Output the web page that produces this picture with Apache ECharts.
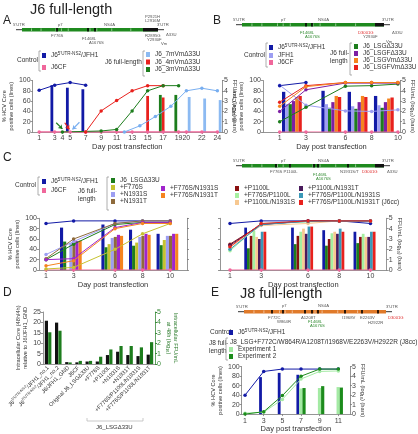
<!DOCTYPE html>
<html><head><meta charset="utf-8">
<script src="https://cdn.jsdelivr.net/npm/echarts@6/dist/echarts.min.js"></script>
<style>html,body{margin:0;padding:0;background:#fff}#c{width:418px;height:434px}</style>
</head><body><div id="c"></div>
<script>
const FONT = '"Liberation Sans", Arial, Helvetica, sans-serif';

// ---------------- names ----------------
const J6JFH1 = "J6^5'UTR-NS2/JFH1";
const J6CF = 'J6CF';
const JFH1 = 'JFH1';
const LSG = 'J6_LSGΔ33U';

// ---------------- Panel A (days, % core lines / FFU bars) ----------------
const A_TICK_DAYS = [1,3,4,5,7,9,11,13,15,17,19,20,22,24];
const A_core_J6JFH1 = [[1,81],[3,91],[5,96],[7,91]];
const A_core_J6CF = [[1,0],[3,0],[5,0],[7,0],[9,0],[11,0],[13,0],[15,0],[17,0],[19,0],[20,0],[22,0],[24,0]];
const A_core_7mVm = [[12,0],[14,12],[16,30],[18,50],[20,80],[22,85],[24,80]];
const A_core_4mVm = [[7,0],[9,41],[11,61],[13,80],[15,90],[17,90]];
const A_core_3mVm = [[4,0],[9,2],[11,5],[13,41],[15,80],[17,90],[19,90]];
const A_BAR_DAYS = [3,5,7,15,17,19,20,22,24];
const A_ffu_J6JFH1 = [4.55,4.3,4.15,null,null,null,null,null,null];
const A_ffu_4mVm   = [null,null,null,3.5,3.35,null,null,null,null];
const A_ffu_3mVm   = [null,null,null,null,3.6,3.6,null,null,null];
const A_ffu_7mVm   = [null,null,null,null,null,null,3.4,3.25,3.1];
const A_arrow_3mVm = [[3.2,18],[4.0,6]];
const A_arrow_4mVm = [[4.3,18],[4.9,5]];
const A_arrow_7mVm = [[6.2,19],[5.3,5]];

// ---------------- Panel B ----------------
const B_DAYS = [1,3,6,8,10];
const B_core_J6JFH1 = [90,96,null,null,null];
const B_core_JFH1   = [91,52,41,40,43];
const B_core_J6CF   = [0,0,0,0,0];
const B_core_LSG    = [20,48,89,90,93];
const B_core_LSGF   = [40,82,95,95,95];
const B_core_LSGVm  = [50,88,96,96,96];
const B_core_LSGFVm = [58,90,96,96,96];
const B_ffu_J6JFH1 = [null,3.9,4.0,3.9,3.5];
const B_ffu_JFH1   = [null,2.7,2.7,2.5,2.6];
const B_ffu_LSG    = [null,2.7,2.35,2.25,2.35];
const B_ffu_LSGF   = [null,3.0,2.9,2.9,2.9];
const B_ffu_LSGVm  = [null,3.4,3.5,3.5,3.25];
const B_ffu_LSGFVm = [null,3.5,3.4,3.4,3.35];

// ---------------- Panel C left ----------------
const C_DAYS = [1,3,6,8,10];
const CL_core_J6JFH1 = [90,95,95,95,95];
const CL_core_J6CF   = [0,0,0,0,0];
const CL_core_LSG    = [20,50,88,92,92];
const CL_core_F776S  = [2,5,40,70,90];
const CL_core_N1931S = [30,55,90,95,95];
const CL_core_N1931T = [22,60,90,95,95];
const CL_core_F776S_N1931S = [20,22,82,92,92];
const CL_core_F776S_N1931T = [8,18,80,90,90];
const CL_ffu_J6JFH1 = [null,4.1,4.4,3.9,3.5];
const CL_ffu_LSG    = [null,2.75,2.2,2.35,2.4];
const CL_ffu_F776S  = [null,null,2.5,2.65,2.9];
const CL_ffu_N1931S = [null,2.6,3.1,3.2,3.3];
const CL_ffu_N1931T = [null,2.75,3.2,3.3,3.3];
const CL_ffu_F776S_N1931S = [null,2.8,3.4,3.5,3.5];
const CL_ffu_F776S_N1931T = [null,2.85,3.3,3.4,3.5];

// ---------------- Panel C right ----------------
const CR_core_J6JFH1 = [90,95,95,95,90];
const CR_core_J6CF   = [0,0,0,0,0];
const CR_core_P1100L = [50,88,95,95,95];
const CR_core_F776S_P1100L = [37,90,93,95,95];
const CR_core_P1100L_N1931S = [44,86,90,95,95];
const CR_core_P1100L_N1931T = [48,88,95,95,95];
const CR_core_F776S_P1100L_N1931S = [40,88,94,95,95];
const CR_core_J6cc = [45,90,95,95,95];
const CR_ffu_J6JFH1 = [null,4.1,4.1,3.85,3.7];
const CR_ffu_LSG    = [null,2.1,2.5,2.35,2.6];
const CR_ffu_P1100L = [null,3.3,3.3,3.0,3.2];
const CR_ffu_F776S_P1100L = [null,3.8,3.7,3.55,3.5];
const CR_ffu_P1100L_N1931S = [null,3.2,4.0,3.7,3.2];
const CR_ffu_P1100L_N1931T = [null,3.0,3.5,3.5,3.2];
const CR_ffu_F776S_P1100L_N1931S = [null,3.7,4.2,4.0,3.7];
const CR_ffu_J6cc = [null,3.7,4.2,3.7,3.7];

// ---------------- Panel D ----------------
const D_CATS = ["J6^5'UTR-NS2/JFH1_no.1","J6^5'UTR-NS2/JFH1_no.2","J6/JFH1_GND","J6CF","Original J6_LSGΔ33U",
  "+F776S","+P1100L","+N1931S","+N1931T","+F776S/P1100L/N1931S","+F776S/P1100L/N1931T"];
const D_core = [20.8,19.9,0.9,0.8,1.2,1.2,4.3,5.9,4.3,3.8,4.5];
const D_ffu  = [3.05,3.2,0.15,0.3,0.3,0.7,1.4,1.73,1.73,1.6,2.1];

// ---------------- Panel E ----------------
const E_DAYS = [1,3,5,7,9,11];
const E_core_J6JFH1 = [40,90,95,95,95,95];
const E_core_exp1 = [2,4,31,74,90,91];
const E_core_exp2 = [0,5,39,80,95,95];
const E_ffu_J6JFH1 = [null,3.9,4.35,4.15,null,null];
const E_ffu_exp1 = [null,null,null,2.7,2.75,2.85];
const E_ffu_exp2 = [null,null,null,2.75,2.95,2.8];

// ---------------- colours ----------------
const COL = {
  blue:'#121aa6', pink:'#f0679b', lblue:'#78aef0', red:'#e8211d', green:'#1d7d1d',
  lav:'#9d9ef2', purple:'#7d1fa3', orange:'#f5841f', olive:'#c6c230', brown:'#8e6a3c',
  mag:'#a024cc', dred:'#8a1010', lgreen:'#a6f0a0', lorange:'#f7c890', dpurple:'#4a1b5c',
  teal:'#3a98b8', e1:'#a4eaa4', e2:'#1c8c1c', black:'#111111'
};

// ---------------- helpers ----------------
const series = [];
const zip = (days, vals) => days.map((d,i) => [d, vals[i]]);
function addLine(name, color, gi, data, extra) {
  series.push(Object.assign({type:'line', name, xAxisIndex:gi*2, yAxisIndex:gi*2, data,
    symbol:'circle', symbolSize:3.5, connectNulls:true, z:5,
    lineStyle:{width:1, color}, itemStyle:{color}}, extra || {}));
}
function addBar(name, color, gi, data, w, extra) {
  series.push(Object.assign({type:'bar', name, xAxisIndex:gi*2+1, yAxisIndex:gi*2+1, data,
    barWidth:w, barGap:'0%', z:2, itemStyle:{color}}, extra || {}));
}
function arrow(pts, color) {
  return {silent:true, symbol:['none','arrow'], symbolSize:4, animation:false,
    label:{show:false}, lineStyle:{color, width:1.2, type:'solid'},
    data:[[{coord:pts[0]},{coord:pts[1]}]]};
}

// ---------------- series: A (grid 0) ----------------
addBar(J6JFH1, COL.blue, 0, zip(A_BAR_DAYS, A_ffu_J6JFH1), 2.8, {stack:'Abg'});
addBar('J6_4mVmΔ33U', COL.red, 0, zip(A_BAR_DAYS, A_ffu_4mVm), 2.8);
addBar('J6_3mVmΔ33U', COL.green, 0, zip(A_BAR_DAYS, A_ffu_3mVm), 2.8, {stack:'Abg'});
addBar('J6_7mVmΔ33U', COL.lblue, 0, zip(A_BAR_DAYS, A_ffu_7mVm), 2.8, {itemStyle:{color:COL.lblue, opacity:0.85}});
addLine(J6CF, COL.pink, 0, A_core_J6CF, {lineStyle:{width:1.3,color:COL.pink}});
addLine(J6JFH1, COL.blue, 0, A_core_J6JFH1);
addLine('J6_4mVmΔ33U', COL.red, 0, A_core_4mVm, {markLine:arrow(A_arrow_4mVm, COL.red)});
addLine('J6_3mVmΔ33U', COL.green, 0, A_core_3mVm, {markLine:arrow(A_arrow_3mVm, COL.green)});
addLine('J6_7mVmΔ33U', COL.lblue, 0, A_core_7mVm, {markLine:arrow(A_arrow_7mVm, COL.lblue)});

// ---------------- series: B (grid 1) ----------------
[[J6JFH1,COL.blue,B_ffu_J6JFH1],[JFH1,COL.lav,B_ffu_JFH1],[LSG,COL.green,B_ffu_LSG],
 ['J6_LSGFΔ33U',COL.purple,B_ffu_LSGF],['J6_LSGVmΔ33U',COL.orange,B_ffu_LSGVm],['J6_LSGFVmΔ33U',COL.red,B_ffu_LSGFVm]]
 .forEach(s => addBar(s[0], s[1], 1, zip(B_DAYS, s[2]), 3.3));
[[J6CF,COL.pink,B_core_J6CF],[JFH1,COL.lav,B_core_JFH1],[J6JFH1,COL.blue,B_core_J6JFH1],[LSG,COL.green,B_core_LSG],
 ['J6_LSGFΔ33U',COL.purple,B_core_LSGF],['J6_LSGFVmΔ33U',COL.red,B_core_LSGFVm],['J6_LSGVmΔ33U',COL.orange,B_core_LSGVm]]
 .forEach(s => addLine(s[0], s[1], 1, zip(B_DAYS, s[2])));

// ---------------- series: C left (grid 2) ----------------
[[J6JFH1,COL.blue,CL_ffu_J6JFH1],[LSG,COL.green,CL_ffu_LSG],['+F776S',COL.olive,CL_ffu_F776S],
 ['+N1931S',COL.lav,CL_ffu_N1931S],['+N1931T',COL.brown,CL_ffu_N1931T],
 ['+F776S/N1931S',COL.mag,CL_ffu_F776S_N1931S],['+F776S/N1931T',COL.orange,CL_ffu_F776S_N1931T]]
 .forEach(s => addBar(s[0], s[1], 2, zip(C_DAYS, s[2]), 3.1));
[[J6CF,COL.pink,CL_core_J6CF],[J6JFH1,COL.blue,CL_core_J6JFH1],[LSG,COL.green,CL_core_LSG],['+F776S',COL.olive,CL_core_F776S],
 ['+N1931S',COL.lav,CL_core_N1931S],['+N1931T',COL.brown,CL_core_N1931T],
 ['+F776S/N1931S',COL.mag,CL_core_F776S_N1931S],['+F776S/N1931T',COL.orange,CL_core_F776S_N1931T]]
 .forEach(s => addLine(s[0], s[1], 2, zip(C_DAYS, s[2])));

// ---------------- series: C right (grid 3) ----------------
[[J6JFH1,COL.blue,CR_ffu_J6JFH1],[LSG,COL.green,CR_ffu_LSG],['+P1100L',COL.dred,CR_ffu_P1100L],
 ['+F776S/P1100L',COL.lgreen,CR_ffu_F776S_P1100L],['+P1100L/N1931S',COL.lorange,CR_ffu_P1100L_N1931S],
 ['+P1100L/N1931T',COL.dpurple,CR_ffu_P1100L_N1931T],['+F776S/P1100L/N1931S',COL.teal,CR_ffu_F776S_P1100L_N1931S],
 ['+F776S/P1100L/N1931T (J6cc)',COL.red,CR_ffu_J6cc]]
 .forEach(s => addBar(s[0], s[1], 3, zip(C_DAYS, s[2]), 2.75));
[[J6CF,COL.pink,CR_core_J6CF],[J6JFH1,COL.blue,CR_core_J6JFH1],['+P1100L',COL.dred,CR_core_P1100L],
 ['+F776S/P1100L',COL.lgreen,CR_core_F776S_P1100L],['+P1100L/N1931S',COL.lorange,CR_core_P1100L_N1931S],
 ['+P1100L/N1931T',COL.dpurple,CR_core_P1100L_N1931T],['+F776S/P1100L/N1931S',COL.teal,CR_core_F776S_P1100L_N1931S],
 ['+F776S/P1100L/N1931T (J6cc)',COL.red,CR_core_J6cc]]
 .forEach(s => addLine(s[0], s[1], 3, zip(C_DAYS, s[2])));

// ---------------- series: D (grid 4, category) ----------------
series.push({type:'bar', name:'Intracellular Core', xAxisIndex:8, yAxisIndex:8, data:D_core, barWidth:3.2, barGap:'5%', itemStyle:{color:COL.black}});
series.push({type:'bar', name:'Intracellular FFU', xAxisIndex:8, yAxisIndex:9, data:D_ffu, barWidth:3.2, barGap:'5%', itemStyle:{color:COL.green}});

// ---------------- series: E (grid 5) ----------------
addBar(J6JFH1, COL.blue, 5, zip(E_DAYS, E_ffu_J6JFH1), 2.8);
addBar('Experiment 1', COL.e1, 5, zip(E_DAYS, E_ffu_exp1), 3.2);
addBar('Experiment 2', COL.e2, 5, zip(E_DAYS, E_ffu_exp2), 3.2);
addLine(J6JFH1, COL.blue, 5, zip(E_DAYS, E_core_J6JFH1));
addLine('Experiment 1', COL.e1, 5, zip(E_DAYS, E_core_exp1));
addLine('Experiment 2', COL.e2, 5, zip(E_DAYS, E_core_exp2));

// ---------------- axes ----------------
const AX = '#7a7a7a';
const axLine = {show:true, onZero:false, lineStyle:{color:AX, width:0.8}};
const tick = {show:true, length:2, lineStyle:{color:AX, width:0.8}};
const lab = {fontSize:7, color:'#444', fontFamily:FONT};
function dayAxis(gi, min, max, ticks, nameGap) {
  return {type:'value', gridIndex:gi, min, max, position:'bottom', axisLine:axLine,
    axisTick:Object.assign({customValues:ticks}, tick),
    axisLabel:Object.assign({customValues:ticks, margin:3}, lab), splitLine:{show:false},
    name:'Day post transfection', nameLocation:'middle', nameGap,
    nameTextStyle:{fontSize:7.5, color:'#333', fontFamily:FONT}};
}
function hidAxis(gi, min, max) { return {type:'value', gridIndex:gi, min, max, show:false, splitLine:{show:false}}; }
function pctAxis(gi, show) {
  return {type:'value', gridIndex:gi, min:0, max:100, interval:20, position:'left', axisLine:axLine, axisTick:tick,
    axisLabel:Object.assign({show, margin:2}, lab), splitLine:{show:false},
    name: show ? '% HCV Core\npositive cells (lines)' : '', nameLocation:'middle', nameRotate:90, nameGap:14,
    nameTextStyle:{fontSize:5.6, lineHeight:7, color:'#333', fontFamily:FONT}};
}
function ffuAxis(gi, show) {
  return {type:'value', gridIndex:gi, min:0, max:5, interval:1, position:'right', axisLine:axLine, axisTick:tick,
    axisLabel:Object.assign({show, margin:2}, lab), splitLine:{show:false},
    name: show ? 'FFU/mL (log₁₀) (bars)' : '', nameLocation:'middle', nameRotate:-90, nameGap:10,
    nameTextStyle:{fontSize:5.6, color:'#333', fontFamily:FONT}};
}

const xAxis = [
  dayAxis(0, 0.15, 24.6, A_TICK_DAYS, 9), hidAxis(0, 0.15, 24.6),
  dayAxis(1, -0.27, 10.16, B_DAYS, 9), hidAxis(1, 0.8, 11.23),
  dayAxis(2, 0.49, 11.22, C_DAYS, 9), hidAxis(2, 0.69, 11.42),
  dayAxis(3, 0.36, 11.04, C_DAYS, 9), hidAxis(3, 0.74, 11.42),
  {type:'category', gridIndex:4, data:D_CATS, axisLine:axLine, axisTick:{show:false},
    axisLabel:{interval:0, rotate:45, margin:3, fontSize:5.6, color:'#444', fontFamily:FONT, formatter:v=>fmtName(v),
      rich:richFor(5.6)}},
  {type:'category', gridIndex:4, data:D_CATS, show:false},
  dayAxis(5, 0.64, 12.25, E_DAYS, 8), hidAxis(5, 0.64, 12.25)
];
const yAxis = [
  pctAxis(0,true), ffuAxis(0,true),
  pctAxis(1,true), ffuAxis(1,true),
  pctAxis(2,true), ffuAxis(2,false),
  pctAxis(3,false), ffuAxis(3,true),
  {type:'value', gridIndex:4, min:0, max:25, interval:5, position:'left', axisLine:axLine, axisTick:tick,
    axisLabel:Object.assign({margin:2}, lab), splitLine:{show:false},
    name:'Intracellular Core (48h/4h)\nrelative to J6/JFH1_GND', nameLocation:'middle', nameRotate:90, nameGap:12,
    nameTextStyle:{fontSize:5.6, lineHeight:7, color:'#333', fontFamily:FONT}},
  {type:'value', gridIndex:4, min:0, max:5, interval:1, position:'right',
    axisLine:{show:true, lineStyle:{color:'#3a8a3a', width:0.8}}, axisTick:{show:true, length:2, lineStyle:{color:'#3a8a3a'}},
    axisLabel:{margin:2, fontSize:7, color:'#3a8a3a', fontFamily:FONT}, splitLine:{show:false},
    name:'Intracellular FFU/mL\nat 48h (log₁₀)', nameLocation:'middle', nameRotate:-90, nameGap:10,
    nameTextStyle:{fontSize:5.6, lineHeight:7, color:'#2a7a2a', fontFamily:FONT}},
  pctAxis(5,true), ffuAxis(5,true)
];

// ---------------- legends ----------------
function richFor(fs) {
  return {n:{fontSize:fs, lineHeight:8, color:'#333', fontFamily:FONT},
          s:{fontSize:fs*0.7, lineHeight:8, color:'#333', fontFamily:FONT, padding:[0,0,4,0]}};
}
function fmtName(name) {
  const m = name.match(/^(.*?)\^([^\/]*)(.*)$/);
  if (m) return '{n|' + m[1] + '}{s|' + m[2] + '}{n|' + m[3] + '}';
  return '{n|' + name + '}';
}
function legendBox(names, left, top, gap) {
  return {data:names.map(n => ({name:n, icon:'rect'})), orient:'vertical', left, top, padding:0,
    itemWidth:4, itemHeight:5, itemGap:gap, selectedMode:false, formatter:fmtName,
    textStyle:{fontSize:6.5, color:'#333', fontFamily:FONT, rich:richFor(6.5)}};
}
const legend = [
  legendBox([J6JFH1, J6CF], 42, 51, 4),
  legendBox(['J6_7mVmΔ33U','J6_4mVmΔ33U','J6_3mVmΔ33U'], 146, 51, 0.5),
  legendBox([J6JFH1, JFH1, J6CF], 269, 43, 0),
  legendBox([LSG,'J6_LSGFΔ33U','J6_LSGVmΔ33U','J6_LSGFVmΔ33U'], 354, 43, 0),
  legendBox([J6JFH1, J6CF], 42, 177, 1),
  legendBox([LSG,'+F776S','+N1931S','+N1931T'], 111, 177, 0),
  legendBox(['+F776S/N1931S','+F776S/N1931T'], 161, 185, 0),
  legendBox(['+P1100L','+F776S/P1100L','+P1100L/N1931S'], 235, 185, 0),
  legendBox(['+P1100L/N1931T','+F776S/P1100L/N1931S','+F776S/P1100L/N1931T (J6cc)'], 299, 185, 0),
  legendBox([J6JFH1], 229, 328, 0),
  legendBox(['Experiment 1','Experiment 2'], 229, 346, 0)
];

// ---------------- decorations ----------------
const T = (x, y, text, size, color, extra) => Object.assign({type:'text', x, y, silent:true,
  style:{text, fontSize:size, fontFamily:FONT, fill:color || '#333', align:'left', verticalAlign:'middle'}}, extra || {});
const L = (pts, color, w) => ({type:'polyline', silent:true, shape:{points:pts}, style:{stroke:color || '#888', lineWidth:w || 0.7, fill:null}});
const R = (x, y, w, h, fill) => ({type:'rect', silent:true, shape:{x, y, width:w, height:h}, style:{fill}});
const bracket = (x, y1, y2) => L([[x+2,y1],[x,y1],[x,y2],[x+2,y2]], '#999', 0.8);
function genome(x0, x1, y, col, blackFrom, seps, marks) {
  const h = 3.4, els = [];
  els.push(L([[x0-6,y+h/2],[x0,y+h/2]], '#333', 1));
  els.push(R(x0, y, x1-x0, h, col));
  if (blackFrom) els.push(R(blackFrom, y, x1-blackFrom, h, '#111'));
  els.push(L([[x1,y+h/2],[x1+6,y+h/2]], '#333', 1));
  seps.forEach(f => { const sx = x0 + (x1-x0)*f; els.push(L([[sx,y+0.4],[sx,y+h-0.4]], '#fff', 0.5)); });
  marks.forEach(mx => els.push(R(mx-0.8, y, 1.6, h, '#000')));
  return els;
}
const SEPS = [0.07,0.14,0.25,0.29,0.34,0.5,0.55,0.66,0.8];
const G = '#555', GR = '#2f8a2f', RD = '#e03030';
const graphic = [
  // panel letters & titles
  T(3, 21, 'A', 12, '#222'), T(30, 10, 'J6 full-length', 14.5, '#222'),
  T(213, 21, 'B', 12, '#222'), T(3, 158, 'C', 12, '#222'),
  T(3, 293, 'D', 12, '#222'), T(211, 293, 'E', 12, '#222'), T(240, 294, 'J8 full-length', 14.5, '#222'),
  // A genome
  ...genome(22, 158, 28, '#1f8a1f', 143, SEPS, [57, 88, 95]),
  T(13, 24.5, "5'UTR", 4.2, G), T(58, 24.5, 'p7', 4.2, G), T(104, 24.5, 'NS4A', 4.2, G), T(157, 24.5, "3'UTR", 4.2, G),
  T(145, 16.5, 'P2921H', 4.2, G), T(145, 21, 'L2916M', 4.2, G),
  T(51, 36, 'F776S', 4.2, G), T(82, 38.5, 'F1468L', 4.2, G), T(89, 42.5, 'A1676S', 4.2, G),
  T(145, 35.5, 'R2895G', 4.2, G), T(147, 39.5, 'Y2930F', 4.2, G), T(166, 35, 'Δ33U', 4.2, G), T(161, 44, 'Vm', 4.2, G),
  // B genome
  ...genome(242, 384, 23, '#1f8a1f', 375, SEPS, [306, 312]),
  T(233, 20, "5'UTR", 4.2, G), T(281, 20, 'p7', 4.2, G), T(318, 20, 'NS4A', 4.2, G), T(382, 20, "3'UTR", 4.2, G),
  T(300, 33, 'F1468L', 4.2, GR), T(305, 37, 'A1676S', 4.2, GR),
  T(358, 33, 'D3001G', 4.2, RD), T(363, 37, 'Y2930F', 4.2, G), T(392, 33, 'Δ33U', 4.2, G), T(386, 42, 'Vm', 4.2, G),
  // C genome
  ...genome(242, 384, 164, '#1f8a1f', 375, SEPS, [276, 290, 314, 318, 348]),
  T(233, 161, "5'UTR", 4.2, G), T(281, 161, 'p7', 4.2, G), T(318, 161, 'NS4A', 4.2, G), T(382, 161, "3'UTR", 4.2, G),
  T(270, 172, 'F776S P1100L', 4.2, G), T(313, 175, 'F1468L', 4.2, GR), T(316, 179, 'A1676S', 4.2, GR),
  T(340, 172, 'N1931S/T', 4.2, G), T(362, 172, 'D3001G', 4.2, RD), T(387, 172, 'Δ33U', 4.2, G),
  // E genome
  ...genome(244, 386, 310, '#e07a2a', null, SEPS, [272, 283, 305, 312, 318, 345, 362, 378]),
  T(236, 307, "5'UTR", 4.2, G), T(282, 306, 'p7', 4.2, G), T(318, 306, 'NS4A', 4.2, G), T(386, 307, "3'UTR", 4.2, G),
  T(268, 318, 'F772C', 4.2, G), T(277, 322, 'W864R', 4.2, G), T(301, 318, 'A1208T', 4.2, G),
  T(308, 322, 'F1468L', 4.2, GR), T(310, 326, 'A1676S', 4.2, GR),
  T(342, 318, 'I1968V', 4.2, G), T(360, 318, 'E2263V', 4.2, G), T(368, 323, 'H2922R', 4.2, G), T(388, 318, 'D3001G', 4.2, RD),
  // legend captions & brackets A
  T(17, 60, 'Control', 6.5), bracket(39, 51, 71), T(105, 62, 'J6 full-length', 6.5), bracket(143, 51, 76),
  // B
  T(244, 55, 'Control', 6.5), bracket(266, 43, 67), T(330, 53, 'J6 full-', 6.5), T(330, 61, 'length', 6.5), bracket(350, 43, 75),
  // C
  T(15, 185, 'Control', 6.5), bracket(38, 177, 195), T(78, 191, 'J6 full-', 6.5), T(78, 199, 'length', 6.5), bracket(107, 177, 210),
  // E
  T(210, 332, 'Control', 6.5), T(209, 343, 'J8 full-', 6.5), T(209, 351, 'length', 6.5), bracket(226, 338, 360),
  T(230, 342, 'J8_LSG+F772C/W864R/A1208T/I1968V/E2263V/H2922R (J8cc)', 6.5),
  // D group bracket
  L([[87,418],[87,421],[143,421],[143,418]], '#bbb', 0.8), T(96, 427, 'J6_LSGΔ33U', 6)
];

const option = {
  animation:false,
  textStyle:{fontFamily:FONT},
  grid:[
    {left:31, top:80.5, width:191, height:51.5},
    {left:263, top:80.5, width:137, height:51.5},
    {left:39, top:218.3, width:148, height:51.7},
    {left:220, top:218.3, width:166.7, height:51.7},
    {left:43, top:312, width:112, height:52},
    {left:241.7, top:366.7, width:108.3, height:51}
  ],
  xAxis, yAxis, legend, series, graphic
};
const chart = echarts.init(document.getElementById('c'), null, {renderer:'canvas'});
chart.setOption(option);
</script></body></html>
